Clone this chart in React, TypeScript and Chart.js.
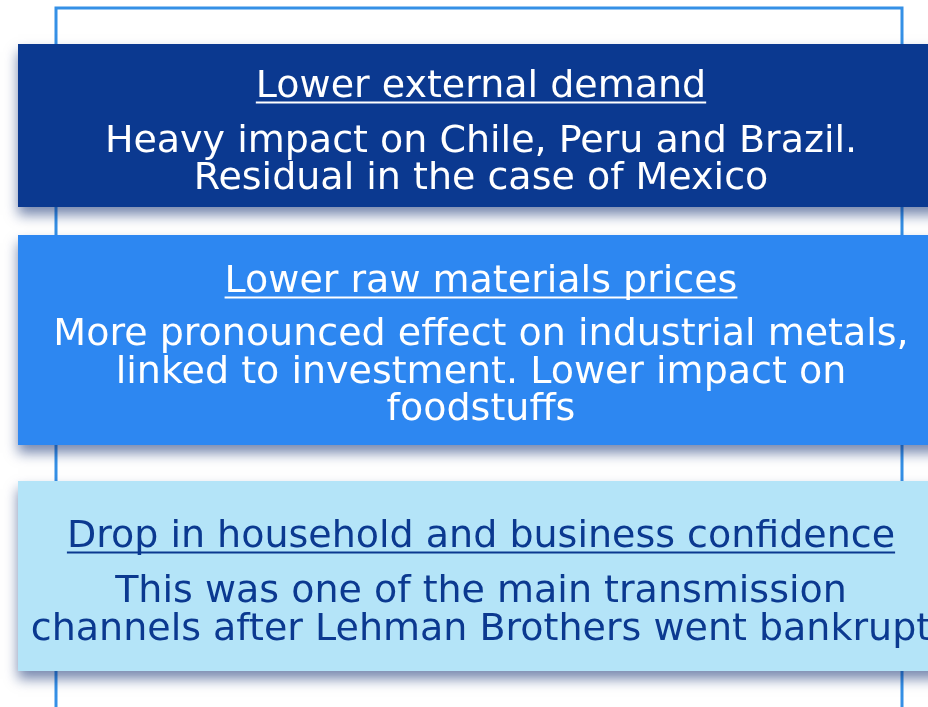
import React, { useEffect, useRef } from "react";
import { Chart, registerables } from "chart.js";

Chart.register(...registerables);

// ---- Diagram content ----
const titles = [
  "Lower external demand",
  "Lower raw materials prices",
  "Drop in household and business confidence",
];
const bodyLines = [
  ["Heavy impact on Chile, Peru and Brazil.", "Residual in the case of Mexico"],
  [
    "More pronounced effect on industrial metals,",
    "linked to investment. Lower impact on",
    "foodstuffs",
  ],
  [
    "This was one of the main transmission",
    "channels after Lehman Brothers went bankrupt",
  ],
];
// box extents in diagram units (x: 0..928, y: 0..707 top-down)
const boxLeft = [18, 18, 18];
const boxRight = [945, 945, 945];
const boxTop = [44, 235, 481];
const boxBottom = [207, 445, 671];
const titleBaseline = [97, 292, 547];
const lineBaselines = [
  [152, 189],
  [345, 383, 420],
  [602, 640],
];
const textCenterX = 481;
// outer frame path
const frameX = [56, 56, 902, 902];
const frameY = [708, 8, 8, 708];

const boxColors = ["#0b3990", "#2d87f1", "#b4e4f8"];
const textColors = ["#ffffff", "#ffffff", "#0b3990"];
const FONT = '"DejaVu Sans", sans-serif';
const FONT_SIZE = 38;

const boxesPlugin = {
  id: "boxes",
  afterDatasetsDraw(chart: any) {
    const ctx = chart.ctx as CanvasRenderingContext2D;
    const xs = chart.scales.x;
    const ys = chart.scales.y;
    for (let i = 0; i < titles.length; i++) {
      const x0 = xs.getPixelForValue(boxLeft[i]);
      const x1 = xs.getPixelForValue(boxRight[i]);
      const y0 = ys.getPixelForValue(boxTop[i]);
      const y1 = ys.getPixelForValue(boxBottom[i]);
      ctx.save();
      ctx.shadowColor = "rgba(10, 40, 110, 0.55)";
      ctx.shadowBlur = 12;
      ctx.shadowOffsetX = 0;
      ctx.shadowOffsetY = 8;
      ctx.fillStyle = boxColors[i];
      ctx.fillRect(x0, y0, x1 - x0, y1 - y0);
      ctx.restore();

      ctx.save();
      ctx.fillStyle = textColors[i];
      ctx.textAlign = "center";
      ctx.textBaseline = "alphabetic";
      const cx = xs.getPixelForValue(textCenterX);
      ctx.font = `${FONT_SIZE}px ${FONT}`;
      const tb = ys.getPixelForValue(titleBaseline[i]);
      ctx.fillText(titles[i], cx, tb);
      const w = ctx.measureText(titles[i]).width;
      ctx.fillRect(cx - w / 2, tb + 4.5, w, 2);
      bodyLines[i].forEach((line, j) => {
        ctx.fillText(line, cx, ys.getPixelForValue(lineBaselines[i][j]));
      });
      ctx.restore();
    }
  },
};

export default function App() {
  const ref = useRef<HTMLCanvasElement | null>(null);
  useEffect(() => {
    document.body.style.margin = "0";
    const canvas = ref.current!;
    const chart = new Chart(canvas, {
      type: "scatter",
      data: {
        datasets: [
          {
            label: "frame",
            data: frameX.map((x, i) => ({ x, y: frameY[i] })),
            showLine: true,
            borderColor: "#3590e6",
            borderWidth: 3,
            pointRadius: 0,
            fill: false,
          },
        ],
      },
      options: {
        responsive: false,
        animation: false,
        layout: { padding: 0 },
        plugins: { legend: { display: false }, tooltip: { enabled: false } },
        scales: {
          x: { type: "linear", min: 0, max: 928, display: false },
          y: { type: "linear", min: 0, max: 707, reverse: true, display: false },
        },
      },
      plugins: [boxesPlugin],
    });
    return () => chart.destroy();
  }, []);
  return (
    <div style={{ width: 928, height: 707, background: "#fff" }}>
      <canvas ref={ref} width={928} height={707} style={{ display: "block" }} />
    </div>
  );
}
